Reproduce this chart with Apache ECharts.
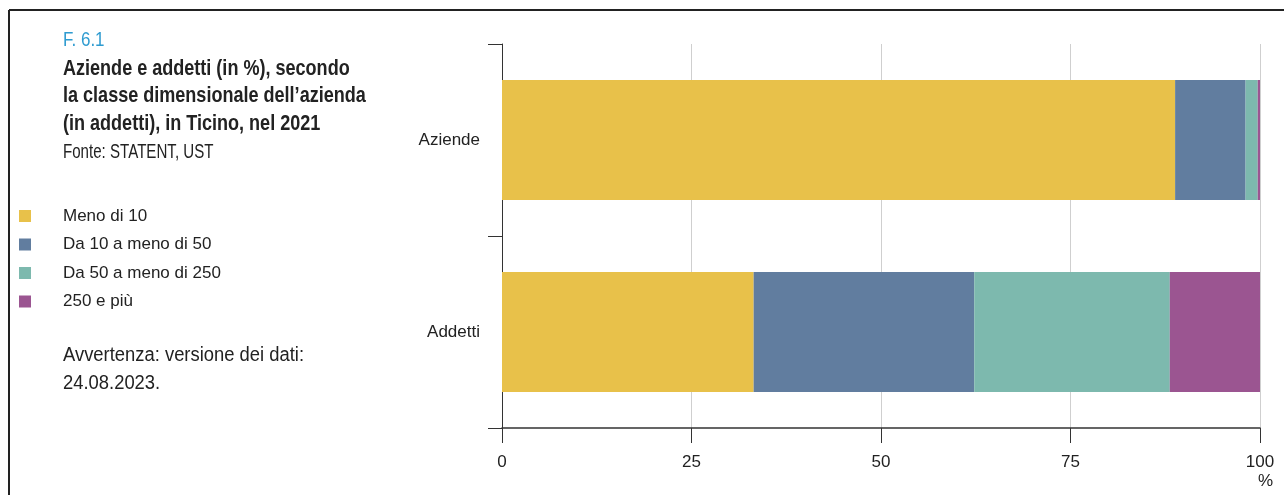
<!DOCTYPE html>
<html>
<head>
<meta charset="utf-8">
<script src="https://cdn.jsdelivr.net/npm/echarts@6/dist/echarts.min.js"></script>
<style>
  html, body { margin: 0; padding: 0; background: #fff; }
  #chart { width: 1284px; height: 495px; }
</style>
</head>
<body>
<div id="chart"></div>
<script>
// Categories (bars) and size classes (stack segments)
const categories = ['Aziende', 'Addetti'];
const classNames = ['Meno di 10', 'Da 10 a meno di 50', 'Da 50 a meno di 250', '250 e più'];

// Shares in % per size class, in category order
const menoDi10 = [88.8, 33.2];
const da10a50 = [9.3, 29.1];
const da50a250 = [1.6, 25.8];
const da250 = [0.3, 11.9];

const xTicks = [0, 25, 50, 75, 100];

const colors = ['#E8C14A', '#617D9F', '#7DB9AE', '#9B5591'];
const FONT = '"Liberation Sans", Arial, sans-serif';

const seriesValues = [menoDi10, da10a50, da50a250, da250];

const chart = echarts.init(document.getElementById('chart'), null, { renderer: 'canvas' });

// narrow text block in the left column
function note(x, y, text, font, sx, color, lineHeight) {
  return {
    type: 'text', x: x, y: y, scaleX: sx,
    style: { text: text, fill: color || '#222', font: font, lineHeight: lineHeight || 27.5 }
  };
}

chart.setOption({
  animation: false,
  backgroundColor: '#ffffff',
  color: colors,
  textStyle: { fontFamily: FONT },
  grid: { left: 502, right: 24, top: 44, bottom: 67, containLabel: false },
  xAxis: {
    type: 'value',
    min: xTicks[0],
    max: xTicks[xTicks.length - 1],
    interval: 25,
    axisLine: { show: true, lineStyle: { color: '#333', width: 1.5 } },
    axisTick: { show: true, length: 15, lineStyle: { color: '#333', width: 1 } },
    axisLabel: { color: '#222', fontSize: 17, fontFamily: FONT, margin: 26 },
    splitLine: { show: true, lineStyle: { color: '#cfcfcf', width: 1 } },
    name: '%',
    nameLocation: 'end',
    nameGap: 0,
    nameTextStyle: { color: '#222', fontSize: 17, fontFamily: FONT, align: 'right', verticalAlign: 'top', padding: [45, -13, 0, 0] }
  },
  yAxis: {
    type: 'category',
    data: categories,
    inverse: true,
    axisLine: { show: true, lineStyle: { color: '#333', width: 1 } },
    axisTick: { show: true, length: 14, lineStyle: { color: '#333', width: 1 } },
    axisLabel: { color: '#222', fontSize: 17, fontFamily: FONT, margin: 22 },
    splitLine: { show: false }
  },
  legend: {
    orient: 'vertical',
    left: 19,
    top: 207,
    padding: 0,
    icon: 'rect',
    itemWidth: 12,
    itemHeight: 12,
    itemGap: 10.5,
    selectedMode: false,
    data: classNames,
    textStyle: { color: '#222', fontSize: 17, fontFamily: FONT, lineHeight: 18, padding: [0, 0, 0, 27] }
  },
  graphic: [
    // frame
    { type: 'line', shape: { x1: 9, y1: 10, x2: 1284, y2: 10 }, style: { stroke: '#222', lineWidth: 2 } },
    { type: 'line', shape: { x1: 9, y1: 10, x2: 9, y2: 495 }, style: { stroke: '#222', lineWidth: 2 } },
    note(63, 27, 'F. 6.1', '20px ' + FONT, 0.85, '#2E9BD0'),
    note(63, 55, 'Aziende e addetti (in %), secondo\nla classe dimensionale dell\u2019azienda\n(in addetti), in Ticino, nel 2021',
         'bold 22px ' + FONT, 0.82),
    note(63, 139, 'Fonte: STATENT, UST', '20px ' + FONT, 0.755),
    note(63, 342, 'Avvertenza: versione dei dati:\n24.08.2023.', '20px ' + FONT, 0.92)
  ],
  series: classNames.map((name, i) => ({
    name: name,
    type: 'bar',
    stack: 'totale',
    barWidth: 120,
    data: seriesValues[i],
    itemStyle: { color: colors[i] }
  }))
});
</script>
</body>
</html>
